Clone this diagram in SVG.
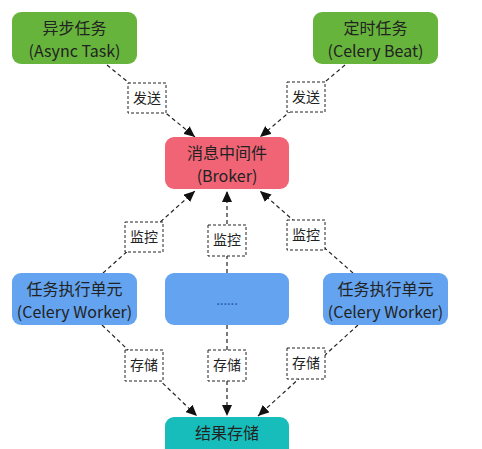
<svg xmlns="http://www.w3.org/2000/svg" width="482" height="449" viewBox="0 0 482 449">
<defs>
<marker id="arr" markerUnits="userSpaceOnUse" markerWidth="12" markerHeight="10" refX="11" refY="5" orient="auto">
<path d="M0,0 L11,5 L0,10 Z" fill="#111"/>
</marker>
<style>
.n text{font-family:"Noto Sans CJK SC","Liberation Sans",sans-serif;font-size:16px;fill:#222;text-anchor:middle}
.g{fill:#66b43b}
.p{fill:#f06475}
.b{fill:#63a3ef}
.t{fill:#17bdba}
.c line{stroke:#222;stroke-width:1.2;stroke-dasharray:4,3;fill:none}
.lb rect{fill:#fff;stroke:#222;stroke-width:1;stroke-dasharray:3,2}
.lb text{font-family:"Noto Sans CJK SC",sans-serif;font-size:14px;fill:#222;text-anchor:middle}
</style>
</defs>
<rect width="482" height="449" fill="#fff"/>
<g class="c" id="connectors">
<line x1="107" y1="65" x2="195" y2="137" marker-end="url(#arr)"/>
<line x1="345" y1="65" x2="260" y2="137" marker-end="url(#arr)"/>
<line x1="103" y1="273" x2="195" y2="191" marker-end="url(#arr)"/>
<line x1="227" y1="273" x2="227" y2="191" marker-end="url(#arr)"/>
<line x1="353" y1="273" x2="260" y2="191" marker-end="url(#arr)"/>
<line x1="102" y1="325" x2="197" y2="416" marker-end="url(#arr)"/>
<line x1="227" y1="325" x2="227" y2="416" marker-end="url(#arr)"/>
<line x1="358" y1="325" x2="258" y2="416" marker-end="url(#arr)"/>
<g class="lb">
<rect x="128" y="83" width="38" height="30"/><text x="147" y="103">发送</text>
<rect x="287" y="82" width="38" height="30"/><text x="306" y="102">发送</text>
<rect x="125" y="222" width="38" height="30"/><text x="144" y="242">监控</text>
<rect x="208" y="225" width="38" height="31"/><text x="227" y="245">监控</text>
<rect x="287" y="220" width="38" height="30"/><text x="306" y="240">监控</text>
<rect x="125" y="350" width="38" height="31"/><text x="144" y="370">存储</text>
<rect x="208" y="350" width="38" height="31"/><text x="227" y="370">存储</text>
<rect x="287" y="348" width="38" height="31"/><text x="306" y="368">存储</text>
</g>
</g>
<g class="n" id="async">
<rect class="g" x="12" y="12" width="125" height="52" rx="9"/>
<text x="74.5" y="34">异步任务</text><text x="74.5" y="57">(Async Task)</text>
</g>
<g class="n" id="beat">
<rect class="g" x="313" y="12" width="125" height="52" rx="9"/>
<text x="375.5" y="34">定时任务</text><text x="375.5" y="57">(Celery Beat)</text>
</g>
<g class="n" id="broker">
<rect class="p" x="165" y="137" width="124" height="52" rx="9"/>
<text x="227" y="159">消息中间件</text><text x="227" y="182">(Broker)</text>
</g>
<g class="n" id="worker1">
<rect class="b" x="12" y="273" width="125" height="52" rx="9"/>
<text x="74.5" y="295">任务执行单元</text><text x="74.5" y="318">(Celery Worker)</text>
</g>
<g class="n" id="worker2">
<rect class="b" x="165" y="273" width="124" height="52" rx="9"/>
<text x="227" y="305" style="fill:#1c4f9a;font-size:13px">......</text>
</g>
<g class="n" id="worker3">
<rect class="b" x="323" y="273" width="125" height="52" rx="9"/>
<text x="385.5" y="295">任务执行单元</text><text x="385.5" y="318">(Celery Worker)</text>
</g>
<g class="n" id="result">
<rect class="t" x="165" y="417" width="124" height="50" rx="9"/>
<text x="227" y="439">结果存储</text>
</g>
</svg>
